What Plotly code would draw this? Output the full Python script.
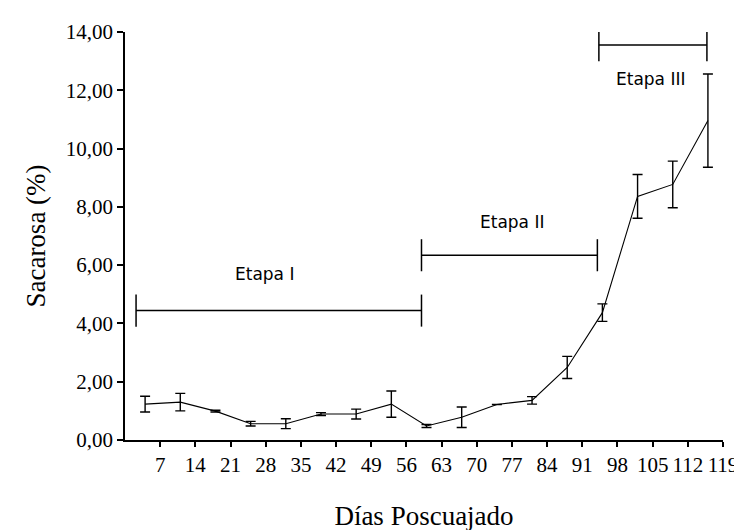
import plotly.graph_objects as go

# Main series: days after fruit set, sucrose (%) and error
days = [4, 11, 18, 25, 32, 39, 46, 53, 60, 67, 74, 81, 88, 95, 102, 109, 116]
sucrose = [1.23, 1.30, 0.99, 0.56, 0.56, 0.89, 0.89, 1.23, 0.48, 0.78, 1.22, 1.36, 2.49, 4.37, 8.36, 8.77, 10.96]
err = [0.27, 0.30, 0.03, 0.08, 0.17, 0.05, 0.17, 0.45, 0.05, 0.35, 0.0, 0.13, 0.38, 0.30, 0.75, 0.80, 1.60]

# Stages
stage_names = ["Etapa I", "Etapa II", "Etapa III"]
stage_start = [2.2, 59, 94.3]
stage_end = [59, 94, 115.8]
stage_y = [4.44, 6.34, 13.55]
stage_label_x = [27.7, 77, 104.6]
stage_label_y = [5.7, 7.47, 12.39]
stage_tick = 0.55

x_ticks = list(range(7, 120, 7))
y_ticks = [0, 2, 4, 6, 8, 10, 12, 14]

fig = go.Figure()

fig.add_trace(go.Scatter(
    x=days, y=sucrose, mode="lines",
    line=dict(color="black", width=1.1),
    error_y=dict(type="data", array=err, visible=True, color="black", thickness=1.4, width=5),
    showlegend=False,
))

for s, e, y in zip(stage_start, stage_end, stage_y):
    fig.add_trace(go.Scatter(
        x=[s, e], y=[y, y], mode="lines",
        line=dict(color="black", width=1.5),
        error_y=dict(type="constant", value=stage_tick, visible=True, color="black", thickness=1.5, width=0),
        showlegend=False,
    ))

for name, lx, ly in zip(stage_names, stage_label_x, stage_label_y):
    fig.add_annotation(x=lx, y=ly, text=name, showarrow=False,
                       font=dict(family="DejaVu Sans", size=17, color="black"))

fig.update_layout(
    width=742, height=530,
    margin=dict(l=117, r=24, t=23, b=97),
    paper_bgcolor="white", plot_bgcolor="white",
    separators=",.",
    font=dict(family="Liberation Serif", color="black"),
)

fig.update_xaxes(
    range=[0, 119], tickvals=x_ticks, ticktext=[str(v) for v in x_ticks],
    showgrid=False, zeroline=False, showline=True, linecolor="black", linewidth=1.5,
    ticks="outside", ticklen=5, tickcolor="black", tickwidth=1.5,
    tickfont=dict(family="Liberation Serif", size=21, color="black"),
    title=dict(text="Días Poscuajado", font=dict(family="Liberation Serif", size=27, color="black"), standoff=30),
)
fig.update_yaxes(
    range=[0, 14], tickvals=y_ticks, tickformat=".2f",
    showgrid=False, zeroline=False, showline=True, linecolor="black", linewidth=1.5,
    ticks="outside", ticklen=6, tickcolor="black", tickwidth=1.5,
    tickfont=dict(family="Liberation Serif", size=21, color="black"),
    title=dict(text="Sacarosa (%)", font=dict(family="Liberation Serif", size=27, color="black"), standoff=12),
)

fig.write_html("out.html")
